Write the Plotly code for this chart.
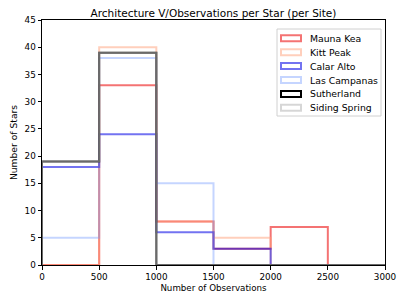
import plotly.graph_objects as go

# Data
bin_edges = [0, 500, 1000, 1500, 2000, 2500, 3000]
sites = ["Mauna Kea", "Kitt Peak", "Calar Alto", "Las Campanas", "Sutherland", "Siding Spring"]
mauna_kea = [0, 33, 8, 3, 7, 0]
kitt_peak = [0, 40, 8, 5, 0, 0]
calar_alto = [18, 24, 6, 3, 0, 0]
las_campanas = [5, 38, 15, 0, 0, 0]
sutherland = [19, 39, 0, 0, 0, 0]
siding_spring = [19, 39, 0, 0, 0, 0]
x_ticks = [0, 500, 1000, 1500, 2000, 2500, 3000]
y_ticks = [0, 5, 10, 15, 20, 25, 30, 35, 40, 45]

series = [mauna_kea, kitt_peak, calar_alto, las_campanas, sutherland, siding_spring]
line_colors = [
    "rgba(235,0,0,0.55)",
    "rgba(255,160,122,0.5)",
    "rgba(0,0,230,0.55)",
    "rgba(110,150,255,0.4)",
    "rgba(0,0,0,1)",
    "rgba(211,211,211,0.5)",
]
legend_colors = [
    "rgba(235,0,0,0.55)",
    "rgba(255,160,122,0.5)",
    "rgba(0,0,230,0.55)",
    "rgba(110,150,255,0.4)",
    "rgba(0,0,0,1)",
    "rgba(200,200,200,0.75)",
]

# Page offset (browser body margin) and target plot box in window pixels
OFF = 8
W, H = 407 - OFF, 305 - OFF
PL, PR, PT, PB = 42, 385, 20, 265


def px_x(X):
    return (X - PL) / (PR - PL)


def px_y(Y):
    return (PB - Y) / (PB - PT)


fig = go.Figure()
for name, counts, col in zip(sites, series, line_colors):
    xs = [bin_edges[0]] + bin_edges
    ys = [0] + counts + [0]
    fig.add_trace(go.Scatter(
        x=xs, y=ys, mode="lines", line=dict(color=col, width=2, shape="hv"),
        showlegend=False, hoverinfo="skip", name=name,
    ))

FONT = "DejaVu Sans"
axis_common = dict(
    showline=True, linecolor="black", linewidth=1, mirror=True,
    ticks="outside", ticklen=3.5, tickwidth=1, tickcolor="black",
    showgrid=False, zeroline=False, automargin=False,
    tickfont=dict(family=FONT, size=8.8, color="black"),
)
fig.update_xaxes(range=[0, 3000], tickvals=x_ticks,
                 title=dict(text="Number of Observations", font=dict(family=FONT, size=8.7, color="black"), standoff=3),
                 **axis_common)
fig.update_yaxes(range=[0, 45], tickvals=y_ticks,
                 title=dict(text="Number of Stars", font=dict(family=FONT, size=9.2, color="black"), standoff=6),
                 **axis_common)

# Legend (matplotlib-style compact box)
shapes = [dict(type="rect", xref="paper", yref="paper",
               x0=px_x(277), x1=px_x(381), y0=px_y(116), y1=px_y(29),
               fillcolor="rgba(255,255,255,0.85)", line=dict(color="#d0d0d0", width=1), layer="above")]
annotations = []
row0, step = 38.3, 13.9
for i, (name, col) in enumerate(zip(sites, legend_colors)):
    cy = row0 + i * step
    shapes.append(dict(type="rect", xref="paper", yref="paper",
                       x0=px_x(281), x1=px_x(301), y0=px_y(cy + 3), y1=px_y(cy - 3),
                       fillcolor="rgba(0,0,0,0)", line=dict(color=col, width=2), layer="above"))
    annotations.append(dict(xref="paper", yref="paper", x=px_x(307.5), y=px_y(cy),
                            xanchor="left", yanchor="middle", showarrow=False, text=name,
                            font=dict(family=FONT, size=9.3, color="black")))

fig.update_layout(
    width=W, height=H,
    margin=dict(l=PL - OFF, r=407 - PR, t=PT - OFF, b=305 - PB),
    paper_bgcolor="white", plot_bgcolor="white",
    font=dict(family=FONT, size=8.7, color="black"),
    title=dict(text="Architecture V/Observations per Star (per Site)",
               font=dict(family=FONT, size=10.5, color="black"),
               xref="paper", x=0.5, xanchor="center",
               y=1 - (13.2 - OFF) / H, yanchor="middle"),
    showlegend=False,
    shapes=shapes,
    annotations=annotations,
)

fig.write_html("out.html")
